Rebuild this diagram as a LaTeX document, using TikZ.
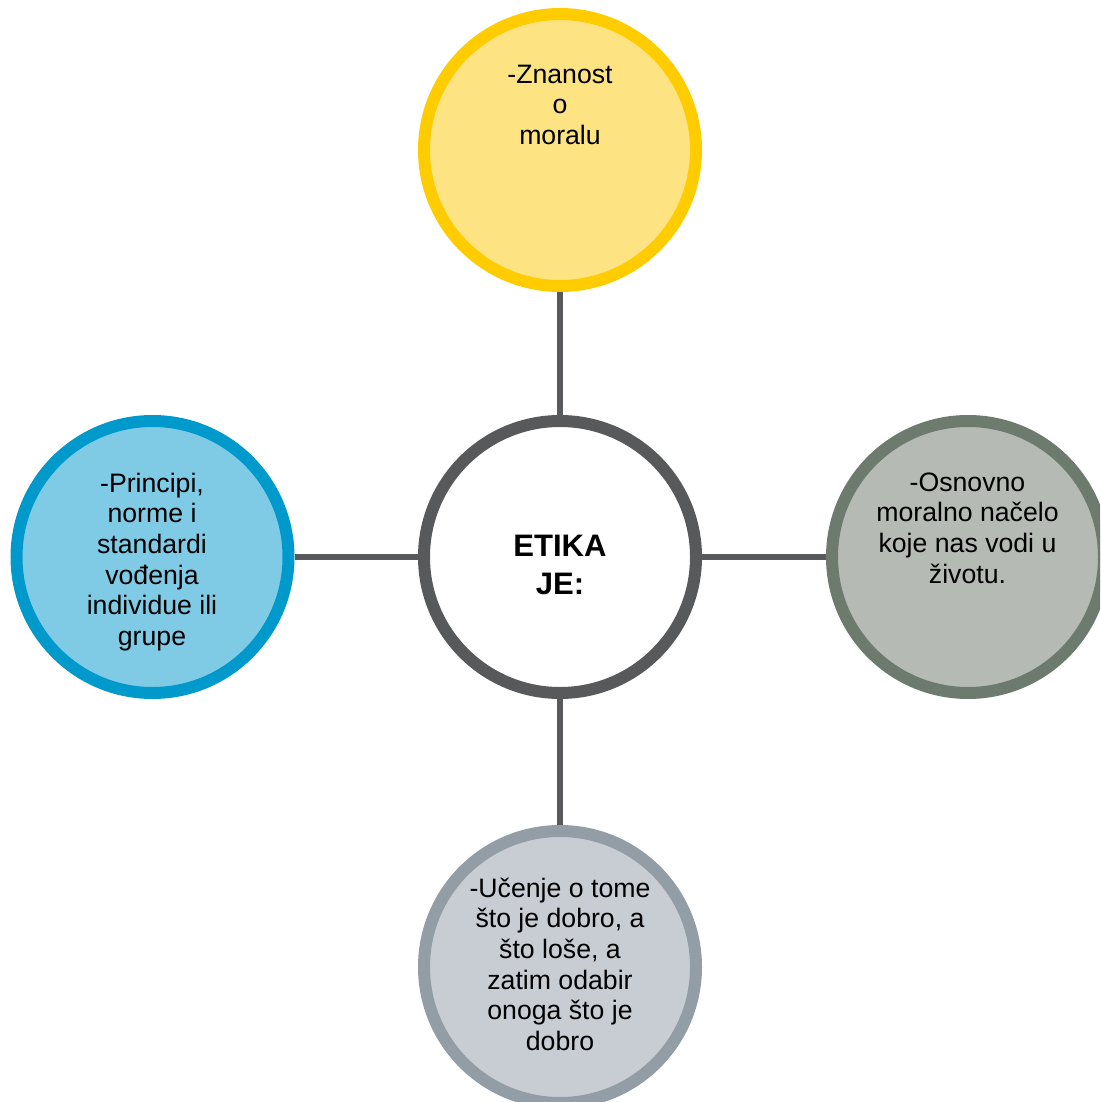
\documentclass[tikz,border=0pt]{standalone}
\usepackage{fontspec}
\setmainfont{Liberation Sans}
\definecolor{ylfill}{HTML}{FDE381}
\definecolor{yldraw}{HTML}{FFCC00}
\definecolor{blfill}{HTML}{7FCBE6}
\definecolor{bldraw}{HTML}{0099CC}
\definecolor{grfill}{HTML}{B5BAB4}
\definecolor{grdraw}{HTML}{6D7B6F}
\definecolor{btfill}{HTML}{C8CDD3}
\definecolor{btdraw}{HTML}{939DA6}
\definecolor{ctdraw}{HTML}{58595B}
\begin{document}
\begin{tikzpicture}[x=0.75pt,y=-0.75pt,
  bubble/.style={circle, minimum size=204pt, inner sep=0pt, outer sep=4.5pt, line width=9pt},
  link/.style={line width=4pt, draw=ctdraw},
  txt/.style={anchor=north, align=center, inner sep=0pt, font=\fontsize{20pt}{23pt}\selectfont},
  boldtxt/.style={anchor=north, align=center, inner sep=0pt, font=\fontsize{23.3pt}{28.5pt}\selectfont\bfseries}]
\useasboundingbox (0,0) rectangle (1100,1102);
\clip (0,0) rectangle (1100,1102);
\node[bubble, fill=ylfill, draw=yldraw] (top) at (560,150) {};
\node[bubble, fill=white, draw=ctdraw] (ctr) at (560,557) {};
\node[bubble, fill=blfill, draw=bldraw] (lft) at (152.5,557) {};
\node[bubble, fill=grfill, draw=grdraw] (rgt) at (968,557) {};
\node[bubble, fill=btfill, draw=btdraw] (bot) at (560,967) {};
\draw[link] (top.south) -- (ctr.north);
\draw[link] (lft.east) -- (ctr.west);
\draw[link] (ctr.east) -- (rgt.west);
\draw[link] (ctr.south) -- (bot.north);
\node[txt] (ttop) at (560,56.3) {\rule{0pt}{20pt}-Znanost\\o\\moralu};
\node[boldtxt] (tctr) at (560,524.7) {\rule{0pt}{24pt}ETIKA\\JE:};
\node[txt] (tlft) at (152,465.3) {\rule{0pt}{20pt}-Principi,\\norme i\\standardi\\vođenja\\individue ili\\grupe};
\node[txt] (trgt) at (967.5,464.3) {\rule{0pt}{20pt}-Osnovno\\moralno načelo\\koje nas vodi u\\životu.};
\node[txt] (tbot) at (560,870.3) {\rule{0pt}{20pt}-Učenje o tome\\što je dobro, a\\što loše, a\\zatim odabir\\onoga što je\\dobro};
\end{tikzpicture}
\end{document}
